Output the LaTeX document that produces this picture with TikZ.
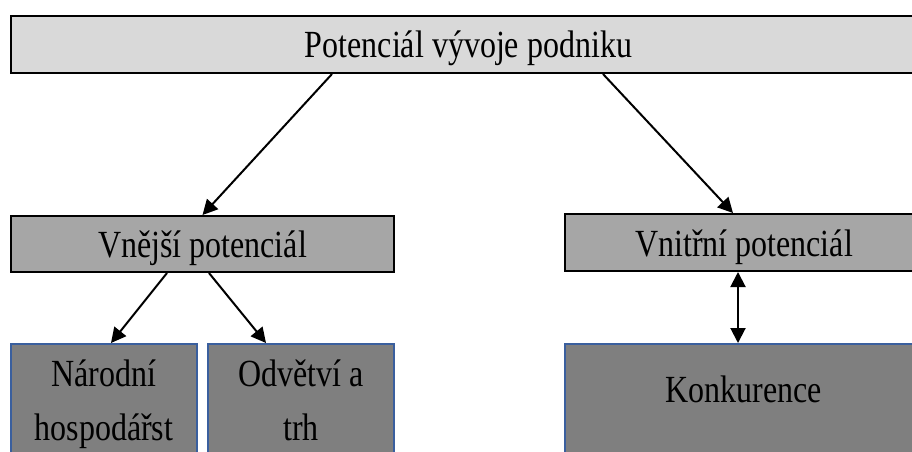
\documentclass[tikz,border=0pt]{standalone}
\usepackage{graphicx}
\usepackage{fontspec}
\setmainfont{Liberation Serif}
\usetikzlibrary{arrows.meta}
\definecolor{topfill}{HTML}{D9D9D9}
\definecolor{midfill}{HTML}{A6A6A6}
\definecolor{lowfill}{HTML}{7F7F7F}
\definecolor{lowedge}{HTML}{3A5F9E}
\newcommand{\tallText}[1]{\scalebox{1}[1.2]{#1}}
\begin{document}
\begin{tikzpicture}[x=1pt,y=-1pt,
  box/.style={rectangle,inner sep=0pt,line width=2pt},
  topbox/.style={box,draw=black,fill=topfill},
  midbox/.style={box,draw=black,fill=midfill},
  lowbox/.style={box,draw=lowedge,fill=lowfill},
  lbl/.style={inner sep=0pt,anchor=base,font=\fontsize{32}{38}\selectfont},
  arr/.style={line width=2pt,-{Triangle[length=15pt,width=15pt]}},
  darr/.style={line width=2pt,{Triangle[length=15pt,width=15pt]}-{Triangle[length=15pt,width=15pt]}}]
\clip (0,0) rectangle (912,451);
\fill[white] (0,0) rectangle (912,451);
% boxes
\node[topbox,minimum width=915pt,minimum height=57pt] (top) at (468.5,44.5) {};
\node[midbox,minimum width=383pt,minimum height=56pt] (vnej) at (202.5,244) {};
\node[midbox,minimum width=358pt,minimum height=57pt] (vnit) at (744,242.5) {};
\node[lowbox,minimum width=186pt,minimum height=140pt] (nar) at (104,414) {};
\node[lowbox,minimum width=186pt,minimum height=140pt] (odv) at (301,414) {};
\node[lowbox,minimum width=358pt,minimum height=140pt] (konk) at (744,414) {};
% texts
\node[lbl] (ttop) at (468.5,57) {\tallText{Potenciál vývoje podniku}};
\node[lbl] (tvnej) at (202.5,257) {\tallText{Vnější potenciál}};
\node[lbl] (tvnit) at (744,256) {\tallText{Vnitřní potenciál}};
\node[lbl] (tnar1) at (104,386) {\tallText{Národní}};
\node[lbl] (tnar2) at (104,440) {\tallText{hospodářst}};
\node[lbl] (todv1) at (301,386) {\tallText{Odvětví a}};
\node[lbl] (todv2) at (301,440) {\tallText{trh}};
\node[lbl] (tkonk) at (744,402) {\tallText{Konkurence}};
% connectors
\draw[arr] ([xshift=-136.5pt]top.south) -- (vnej.north);
\draw[arr] ([xshift=134.5pt]top.south) -- ([xshift=-11pt]vnit.north);
\draw[arr] ([xshift=-35.5pt]vnej.south) -- ([xshift=7pt]nar.north);
\draw[arr] ([xshift=6.5pt]vnej.south) -- ([xshift=-35pt]odv.north);
\draw[darr] ([xshift=-6pt]vnit.south) -- ([xshift=-6pt]konk.north);
\end{tikzpicture}
\end{document}
